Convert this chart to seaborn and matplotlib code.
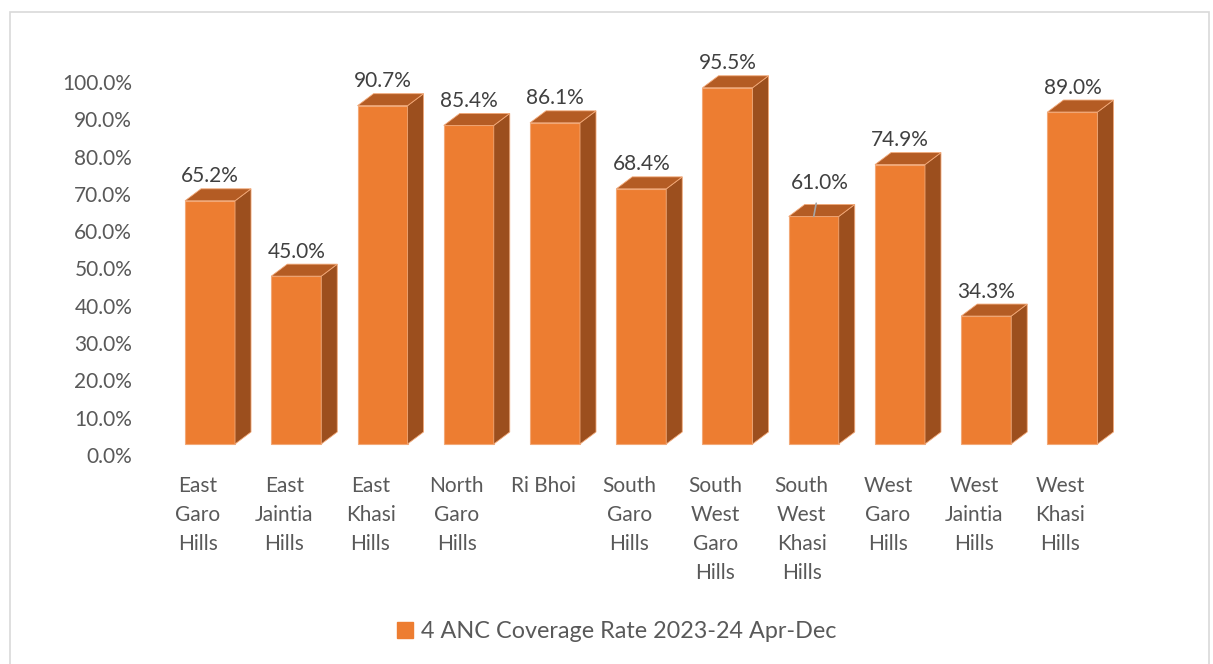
import numpy as np
import pandas as pd
import matplotlib
matplotlib.use("Agg")
import matplotlib.pyplot as plt
import matplotlib.transforms as mtransforms
from matplotlib.patches import Polygon, Rectangle
from matplotlib.lines import Line2D
import seaborn as sns

# data
districts = ["East\nGaro\nHills", "East\nJaintia\nHills", "East\nKhasi\nHills",
             "North\nGaro\nHills", "Ri Bhoi", "South\nGaro\nHills",
             "South\nWest\nGaro\nHills", "South\nWest\nKhasi\nHills",
             "West\nGaro\nHills", "West\nJaintia\nHills", "West\nKhasi\nHills"]
coverage = [65.2, 45.0, 90.7, 85.4, 86.1, 68.4, 95.5, 61.0, 74.9, 34.3, 89.0]
yticks = list(range(0, 101, 10))
series_name = "4 ANC Coverage Rate 2023-24 Apr-Dec"

FRONT = "#ED7D31"
SIDE = "#9C4F1E"
TOP = "#B45C24"
EDGE = "#F2A877"

sns.set_theme(style="white")
plt.rcParams["font.family"] = ["Lato", "DejaVu Sans"]

W, H = 1213, 664
fig = plt.figure(figsize=(W / 100, H / 100), dpi=100)
ax = fig.add_axes([166.9 / W, 220 / H, 948.7 / W, 373 / H])

df = pd.DataFrame({"district": districts, "coverage": coverage})
sns.barplot(data=df, x="district", y="coverage", color=FRONT, saturation=1,
            width=50 / 86.25, edgecolor=EDGE, linewidth=0.8, ax=ax)
ax.set_xlim(-0.5, 10.5)
ax.set_ylim(0, 100)

# 3d look: depth offset in pixels turned into data units
ddx = 16 / 86.25
ddy = 12 * 100 / 373
for p in list(ax.patches):
    x0, w, h = p.get_x(), p.get_width(), p.get_height()
    side = Polygon([(x0 + w, 0), (x0 + w + ddx, ddy), (x0 + w + ddx, h + ddy), (x0 + w, h)],
                   closed=True, facecolor=SIDE, edgecolor=EDGE, linewidth=0.6, clip_on=False)
    top = Polygon([(x0, h), (x0 + ddx, h + ddy), (x0 + w + ddx, h + ddy), (x0 + w, h)],
                  closed=True, facecolor=TOP, edgecolor=EDGE, linewidth=0.6, clip_on=False)
    ax.add_patch(side)
    ax.add_patch(top)
    p.set_clip_on(False)

# value labels
for i, v in enumerate(coverage):
    if v == 61.0:
        ax.annotate(f"{v:.1f}%", xy=(i, v), xytext=(4.5, 24), textcoords="offset points",
                    ha="center", va="center", fontsize=15, color="#404040",
                    arrowprops=dict(arrowstyle="-", color="#A6A6A6", lw=1.2, shrinkA=5, shrinkB=0))
    else:
        ax.annotate(f"{v:.1f}%", xy=(i, v + ddy), xytext=(0, 9), textcoords="offset points",
                    ha="center", va="center", fontsize=15, color="#404040")

ax.set_yticks(yticks)
ax.set_yticklabels([f"{t:.1f}%" for t in yticks])
ax.set_xlabel("")
ax.set_ylabel("")
ax.tick_params(axis="y", length=0, pad=25, labelsize=15, labelcolor="#595959")
ax.tick_params(axis="x", length=0, pad=23, labelsize=15, labelcolor="#595959")
for lab in ax.get_yticklabels():
    lab.set_transform(lab.get_transform() + mtransforms.ScaledTranslation(0, -11 / 100, fig.dpi_scale_trans))
for lab in ax.get_xticklabels():
    lab.set_linespacing(1.56)
    lab.set_transform(lab.get_transform() + mtransforms.ScaledTranslation(-12 / 100, 0, fig.dpi_scale_trans))
sns.despine(ax=ax, left=True, bottom=True)

# legend
handle = Line2D([], [], marker="s", linestyle="", markersize=11, color=FRONT)
fig.legend([handle], [series_name], loc="center", bbox_to_anchor=(614 / W, 1 - 632 / H),
           frameon=False, fontsize=16.8, handletextpad=0.1, handlelength=1.2, labelcolor="#595959")

# chart area border
fig.patches.append(Rectangle((10 / W, -0.1), 1199 / W, 1.1 - 12 / H, transform=fig.transFigure,
                             fill=False, edgecolor="#D9D9D9", linewidth=1.2))

fig.savefig("out.png", dpi=100)
